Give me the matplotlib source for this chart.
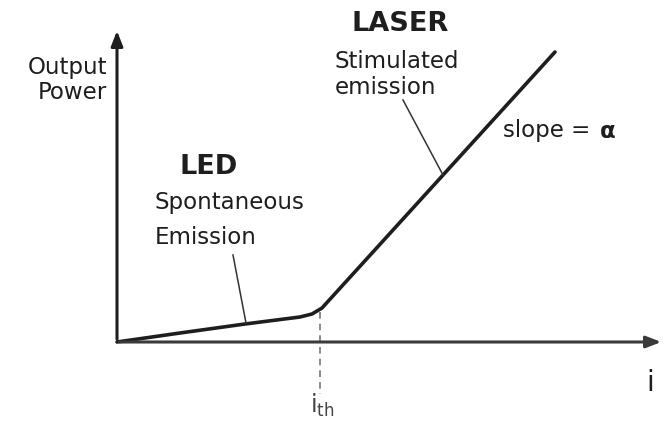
import matplotlib.pyplot as plt

# LED/laser output power vs drive current (units are relative, origin at the axes corner)
current = [0, 63, 128, 183, 195, 205, 438]
power = [0, 9, 18, 25, 28, 34, 290]
i_th = 203

fig = plt.figure(figsize=(6.65, 4.22), dpi=100)
ax = fig.add_axes([0, 0, 1, 1])
ax.set_xlim(-117, 548)
ax.set_ylim(-80, 342)
ax.axis('off')

col = '#1e1e1e'

# axes with arrow heads
ax.annotate('', xy=(0, 314), xytext=(0, 0),
            arrowprops=dict(arrowstyle='-|>,head_length=0.9,head_width=0.35', color=col, lw=2.2))
ax.annotate('', xy=(547, 0), xytext=(0, 0),
            arrowprops=dict(arrowstyle='-|>,head_length=0.9,head_width=0.35', color='#3a3a3a', lw=2.2))

# the curve
ax.plot(current, power, color=col, lw=2.6, solid_capstyle='round', solid_joinstyle='round')

# threshold marker
ax.plot([i_th, i_th], [30, -52], color='#777777', lw=1.2, ls=(0, (4, 3)))

# leader lines
ax.plot([116, 129], [87, 19], color='#333333', lw=1.1)
ax.plot([286, 326], [242, 167], color='#333333', lw=1.1)

fs = 16.5
ax.text(-10, 262, 'Output\nPower', ha='right', va='center', fontsize=fs, linespacing=1.1, color=col)
ax.text(92, 175, 'LED', ha='center', va='center', fontsize=19.5, fontweight='bold', color=col)
ax.text(38, 140, 'Spontaneous', ha='left', va='center', fontsize=fs, color=col)
ax.text(38, 104, 'Emission', ha='left', va='center', fontsize=fs, color=col)
ax.text(283, 318, 'LASER', ha='center', va='center', fontsize=19.5, fontweight='bold', color=col)
ax.text(218, 280, 'Stimulated', ha='left', va='center', fontsize=fs, color=col)
ax.text(218, 254, 'emission', ha='left', va='center', fontsize=fs, color=col)
ax.text(386, 211, 'slope =', ha='left', va='center', fontsize=fs, color=col)
ax.text(483, 211, 'α', ha='left', va='center', fontsize=fs, fontweight='bold', color=col)
ax.text(533, -41, 'i', ha='center', va='center', fontsize=20, color=col)
ax.text(205, -63, r'i$_{\mathregular{th}}$', ha='center', va='center', fontsize=17, color='#444444')

fig.savefig('out.png', dpi=100)
